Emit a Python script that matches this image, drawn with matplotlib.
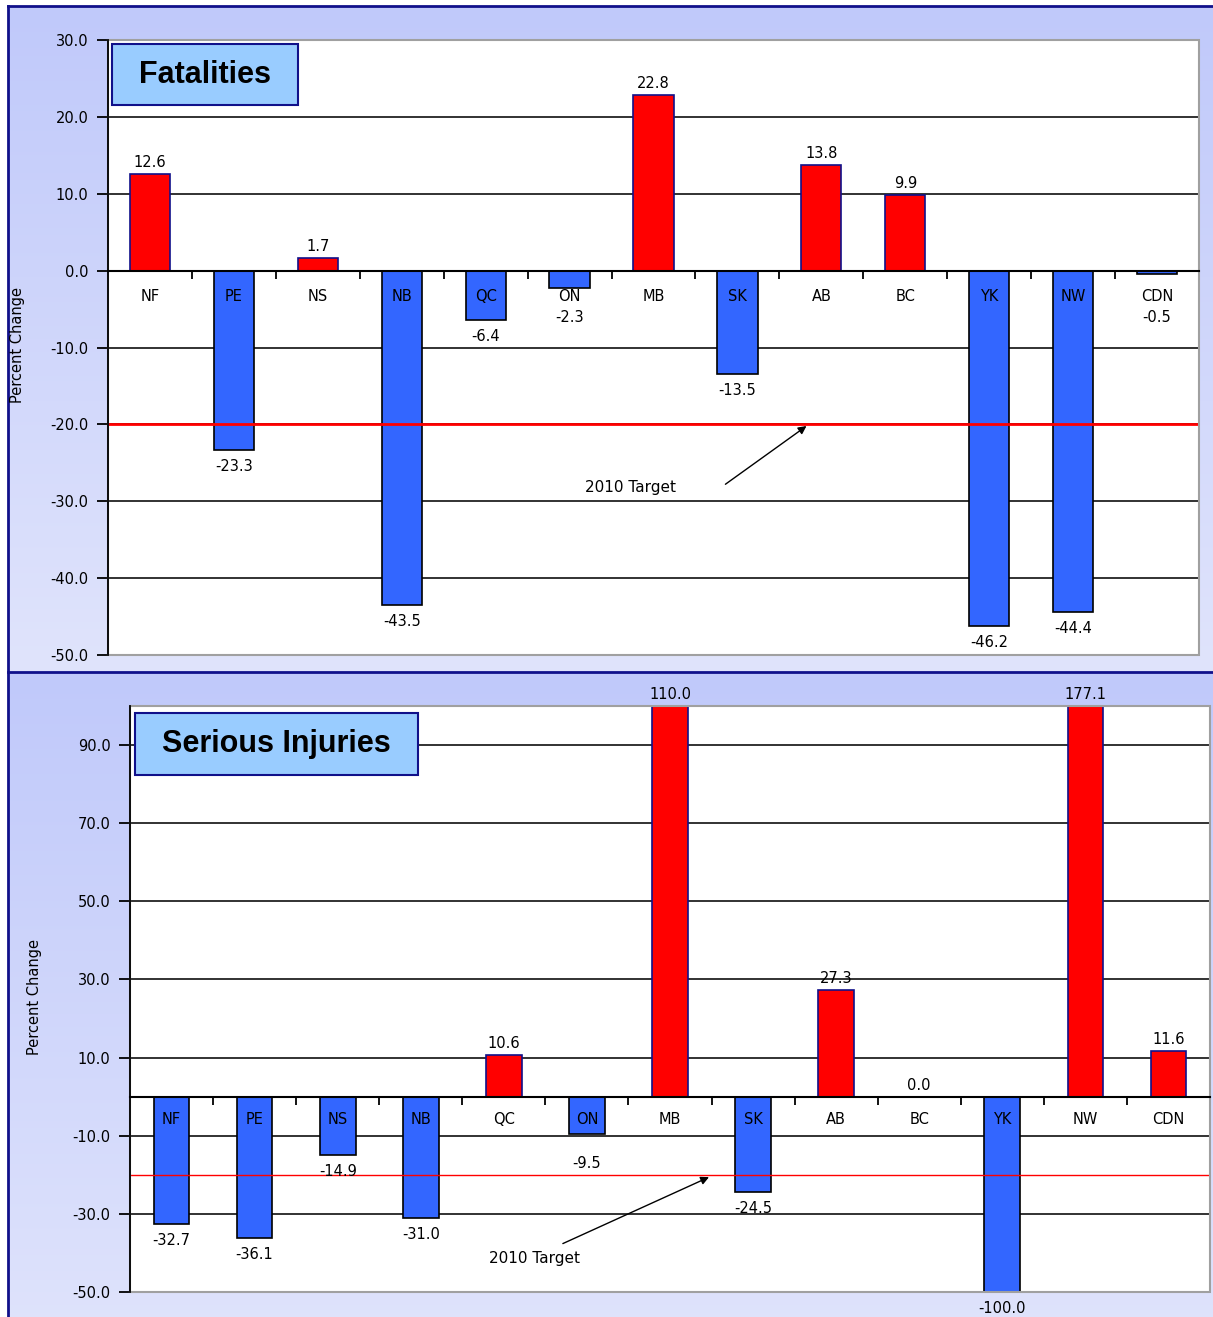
import matplotlib
matplotlib.use("Agg")
import matplotlib.pyplot as plt
import numpy as np
from matplotlib.patches import Rectangle
from matplotlib.colors import LinearSegmentedColormap

plt.rcParams['font.family'] = ['DejaVu Sans']

provinces = ["NF", "PE", "NS", "NB", "QC", "ON", "MB", "SK", "AB", "BC", "YK", "NW", "CDN"]
fatalities = [12.6, -23.3, 1.7, -43.5, -6.4, -2.3, 22.8, -13.5, 13.8, 9.9, -46.2, -44.4, -0.5]
injuries = [-32.7, -36.1, -14.9, -31.0, 10.6, -9.5, 110.0, -24.5, 27.3, 0.0, -100.0, 177.1, 11.6]
target = -20.0

fat_ticks = [30, 20, 10, 0, -10, -20, -30, -40, -50]
inj_ticks = [90, 70, 50, 30, 10, -10, -30, -50]

RED = "#FF0000"
BLUE = "#3366FF"
NAVY = "#10108A"
W, H = 1213, 1317
PX = 0.72  # points per pixel at dpi 100
FS = 10.5


def draw_panel(ax, values, ylim, yticks, title, box, bar_w, target_lw,
               small_neg, cat_off, arrow_xy, arrow_from, text_xy):
    x = np.arange(len(values))
    ax.set_xlim(-0.5, len(values) - 0.5)
    ax.set_ylim(*ylim)
    ax.set_facecolor("white")

    inner = [t for t in yticks if ylim[0] < t < ylim[1]]
    ax.hlines(inner, -0.5, len(values) - 0.5, colors="#222222", lw=1.3, zorder=1)

    colors = [RED if v >= 0 else BLUE for v in values]
    edges = [NAVY if v >= 0 else "black" for v in values]
    ax.bar(x, values, width=bar_w, color=colors, edgecolor=edges, linewidth=1.2, zorder=2)

    ax.axhline(target, color="#FF0000", lw=target_lw, zorder=3)

    # frame
    ax.add_patch(Rectangle((0, 0), 1, 1, transform=ax.transAxes, fill=False,
                           edgecolor="#A0A0A0", lw=1.5, zorder=4, clip_on=False))
    for s in ["top", "right"]:
        ax.spines[s].set_visible(False)
    ax.spines["left"].set_linewidth(1.3)
    ax.spines["left"].set_zorder(5)
    ax.spines["bottom"].set_position(("data", 0))
    ax.spines["bottom"].set_linewidth(1.5)
    ax.spines["bottom"].set_zorder(5)

    ax.set_xticks(np.arange(0.5, len(values) - 0.5, 1))
    ax.set_xticklabels([])
    ax.tick_params(axis="x", direction="out", length=6, width=1.3, color="black")
    ax.set_yticks(yticks)
    ax.set_yticklabels(["%.1f" % t for t in yticks], fontsize=FS)
    ax.tick_params(axis="y", direction="out", length=8, width=1.3, pad=6)

    for i, (name, v) in enumerate(zip(provinces, values)):
        ax.annotate(name, (i, 0), xytext=(0, -cat_off * PX), textcoords="offset points",
                    ha="center", va="center", fontsize=FS, zorder=6)
        vc = min(max(v, ylim[0]), ylim[1])
        if v >= 0:
            ax.annotate("%.1f" % v, (i, vc), xytext=(0, 4 * PX), textcoords="offset points",
                        ha="center", va="bottom", fontsize=FS, zorder=6, annotation_clip=False)
        else:
            ax.annotate("%.1f" % v, (i, min(vc, small_neg)), xytext=(0, -9 * PX),
                        textcoords="offset points", ha="center", va="top", fontsize=FS,
                        zorder=6, annotation_clip=False)

    ax.text(text_xy[0], text_xy[1], "2010 Target", ha="center", va="center", fontsize=FS + 0.5, zorder=6)
    ax.annotate("", xy=arrow_xy, xytext=arrow_from,
                arrowprops=dict(arrowstyle="-|>", color="black", lw=1, mutation_scale=12), zorder=6)

    bx0, by0, bx1, by1 = box
    ax.add_patch(Rectangle((bx0, by0), bx1 - bx0, by1 - by0, transform=ax.transAxes,
                           facecolor="#99CCFF", edgecolor=NAVY, lw=1.5, zorder=7, clip_on=False))
    ax.text((bx0 + bx1) / 2, (by0 + by1) / 2, title, transform=ax.transAxes, ha="center",
            va="center", fontsize=22, fontweight="bold", family="Liberation Sans", zorder=8)


fig = plt.figure(figsize=(W / 100, H / 100), dpi=100)

# background panels with vertical gradient
bg = fig.add_axes([0, 0, 1, 1], zorder=-10)
bg.axis("off")
grad = np.linspace(0, 1, 256).reshape(-1, 1)
cmap = LinearSegmentedColormap.from_list("bgc", ["#C0C9FA", "#E0E4FC"])
bg.imshow(grad, cmap=cmap, extent=(8, W + 5, 672, 6), aspect="auto")
bg.imshow(grad, cmap=cmap, extent=(8, W + 5, H + 40, 672), aspect="auto")
bg.set_xlim(0, W)
bg.set_ylim(H, 0)
bg.plot([8, W + 5], [6, 6], color=NAVY, lw=2)
bg.plot([8, 8], [6, H + 5], color=NAVY, lw=2)
bg.plot([8, W + 5], [672, 672], color=NAVY, lw=2)

ax1 = fig.add_axes([108 / W, 1 - 655 / H, 1091 / W, 615 / H])
draw_panel(ax1, fatalities, (-50, 30), fat_ticks, "Fatalities",
           (0.0037, 0.894, 0.174, 0.9935), 0.48, 2.0, -4.0, 26,
           (7.85, -20.0), (6.83, -28.0), (5.72, -28.2))
fig.text(18 / W, 1 - 345 / H, "Percent Change", rotation=90, ha="center", va="center", fontsize=FS)

ax2 = fig.add_axes([130 / W, 1 - 1292 / H, 1080 / W, 586 / H])
draw_panel(ax2, injuries, (-50, 100), inj_ticks, "Serious Injuries",
           (0.0046, 0.882, 0.2667, 0.988), 0.43, 1.0, -13.0, 23,
           (6.5, -20.3), (4.68, -37.9), (4.37, -41.3))
fig.text(35 / W, 1 - 997 / H, "Percent Change", rotation=90, ha="center", va="center", fontsize=FS)

fig.savefig("out.png", dpi=100)
